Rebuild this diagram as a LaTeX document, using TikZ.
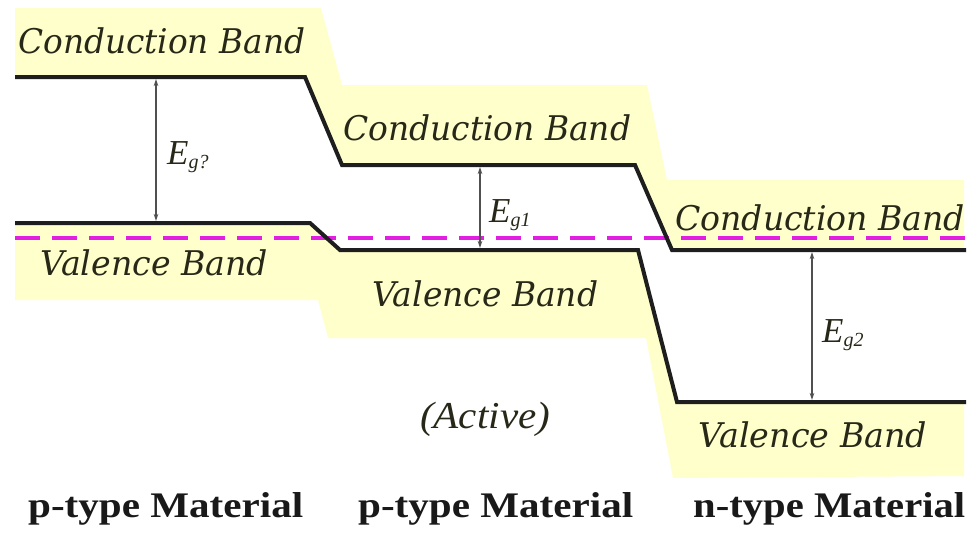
\documentclass[tikz,border=0pt]{standalone}
\usepackage{fontspec}
\usepackage{graphicx}
\setmainfont{Liberation Serif}
\newfontfamily\bandfont{DejaVu Serif}
\usetikzlibrary{arrows.meta}
\definecolor{bandyellow}{RGB}{255,255,204}
\definecolor{fermi}{RGB}{225,30,225}
\definecolor{ink}{RGB}{40,40,25}
\definecolor{matink}{RGB}{25,25,25}
\definecolor{lineink}{RGB}{30,30,30}
\definecolor{gapink}{RGB}{80,80,80}
\newcommand{\fitbox}[2]{\resizebox{#1}{\height}{#2}}
\newcommand{\gsub}[1]{\textsubscript{\fontsize{20pt}{21pt}\selectfont #1}}
\tikzset{
  bandfill/.style={fill=bandyellow, draw=none},
  bandline/.style={draw=lineink, line width=4pt, line join=miter},
  fermiline/.style={draw=fermi, line width=4pt, dash pattern=on 25pt off 12pt},
  gaparrow/.style={draw=gapink, line width=1.3pt, {Stealth[length=7pt,width=4.5pt]}-{Stealth[length=7pt,width=4.5pt]}},
  bandlabel/.style={inner sep=0pt, anchor=base west, text=ink, font=\bandfont\itshape\fontsize{34pt}{36pt}\selectfont},
  matlabel/.style={inner sep=0pt, anchor=base west, text=matink, font=\bfseries\fontsize{36pt}{38pt}\selectfont},
  eglabel/.style={inner sep=0pt, anchor=base west, text=ink, font=\itshape\fontsize{35pt}{37pt}\selectfont}
}
\begin{document}
\begin{tikzpicture}[x=1pt,y=-1pt]
\useasboundingbox (0,0) rectangle (974,533);
\fill[white] (0,0) rectangle (974,533);
% yellow bands
\fill[bandfill] (15,8) -- (321,8) -- (342,85) -- (647,85) -- (667,180) -- (964,180)
  -- (964,250) -- (672,250) -- (635,165) -- (342,165) -- (305,77) -- (15,77) -- cycle;
\fill[bandfill] (15,223) -- (310,223) -- (340,250) -- (638,250) -- (677,402) -- (964,402)
  -- (964,476) -- (673,478) -- (646,338) -- (328,338) -- (318,300) -- (15,300) -- cycle;
% band edges
\coordinate (cb1a) at (15,77);
\coordinate (cb1b) at (305,77);
\coordinate (cb2a) at (342,165);
\coordinate (cb2b) at (635,165);
\coordinate (cb3a) at (672,250);
\coordinate (cb3b) at (966,250);
\coordinate (vb1a) at (15,223);
\coordinate (vb1b) at (310,223);
\coordinate (vb2a) at (340,250);
\coordinate (vb2b) at (638,250);
\coordinate (vb3a) at (677,402);
\coordinate (vb3b) at (966,402);
\coordinate (efa) at (15,238);
\coordinate (efb) at (972,238);
\draw[fermiline] (efa) -- (efb);
\draw[bandline] (cb1a) -- (cb1b) -- (cb2a) -- (cb2b) -- (cb3a) -- (cb3b);
\draw[bandline] (vb1a) -- (vb1b) -- (vb2a) -- (vb2b) -- (vb3a) -- (vb3b);
% gap arrows
\coordinate (g1t) at (156,79);
\coordinate (g1b) at (156,221);
\coordinate (g2t) at (480,167);
\coordinate (g2b) at (480,248);
\coordinate (g3t) at (812,252);
\coordinate (g3b) at (812,400);
\draw[gaparrow] (g1t) -- (g1b);
\draw[gaparrow] (g2t) -- (g2b);
\draw[gaparrow] (g3t) -- (g3b);
\node[eglabel] (eg0) at (167,164) {E\gsub{g?}};
\node[eglabel] (eg1) at (489,222) {E\gsub{g1}};
\node[eglabel] (eg2) at (822,342) {E\gsub{g2}};
% band labels
\node[bandlabel] (cbl1) at (18,53) {\fitbox{287pt}{Conduction Band}};
\node[bandlabel] (cbl2) at (343,140) {\fitbox{288pt}{Conduction Band}};
\node[bandlabel] (cbl3) at (675,230) {\fitbox{290pt}{Conduction Band}};
\node[bandlabel] (vbl1) at (40,275) {\fitbox{228pt}{Valence Band}};
\node[bandlabel] (vbl2) at (372,306) {\fitbox{226pt}{Valence Band}};
\node[bandlabel] (vbl3) at (698,447) {\fitbox{229pt}{Valence Band}};
\node[inner sep=0pt, anchor=base west, text=ink, font=\itshape\fontsize{38pt}{40pt}\selectfont] (act) at (420,428) {\fitbox{130pt}{(Active)}};
% material labels
\node[matlabel] (m1) at (28,517) {\fitbox{275pt}{p-type Material}};
\node[matlabel] (m2) at (358,517) {\fitbox{275pt}{p-type Material}};
\node[matlabel] (m3) at (693,517) {\fitbox{272pt}{n-type Material}};
\end{tikzpicture}
\end{document}
